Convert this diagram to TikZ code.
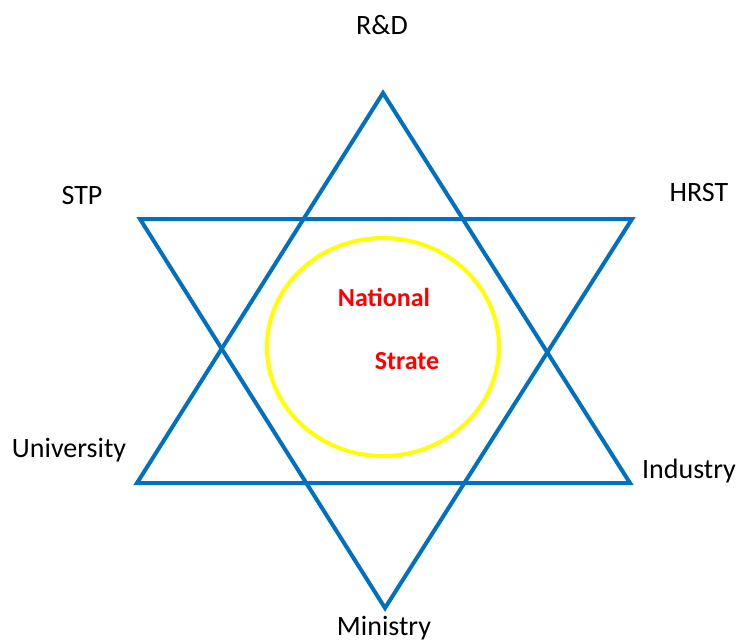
\documentclass[tikz,border=0pt]{standalone}
\usepackage{fontspec}
\setmainfont{Carlito}
\definecolor{starblue}{RGB}{0,112,192}
\definecolor{ringyellow}{RGB}{255,255,0}
\definecolor{coretext}{RGB}{255,0,0}
\begin{document}
\begin{tikzpicture}[x=0.75pt,y=-0.75pt,
  edge/.style={draw=starblue,line width=3pt,line join=miter},
  ring/.style={draw=ringyellow,line width=3pt},
  corner/.style={font=\fontsize{21}{25}\selectfont,text=black,inner sep=0pt},
  core/.style={font=\fontsize{19.5}{23}\selectfont\bfseries,text=coretext,inner sep=0pt}]
\useasboundingbox (0,0) rectangle (738,643);
% star points
\coordinate (up1) at (383,93);
\coordinate (up2) at (137,483);
\coordinate (up3) at (630,483);
\coordinate (dn1) at (140,219);
\coordinate (dn2) at (632,219);
\coordinate (dn3) at (385,608);
% two interlaced triangles
\draw[edge] (up1) -- (up2) -- (up3) -- cycle;
\draw[edge] (dn1) -- (dn2) -- (dn3) -- cycle;
% central ring
\draw[ring] (383,347) ellipse [x radius=116, y radius=109];
% centre text
\node[core] (nat) at (384,297) {National};
\node[core] (str) at (407,361) {Strate};
% corner labels
\node[corner] (rd) at (382,25) {R\&D};
\node[corner] (stp) at (82,196) {STP};
\node[corner] (hrst) at (699,193) {HRST};
\node[corner] (uni) at (69,450) {University};
\node[corner] (ind) at (689,471) {Industry};
\node[corner] (min) at (384,628) {Ministry};
\end{tikzpicture}
\end{document}
